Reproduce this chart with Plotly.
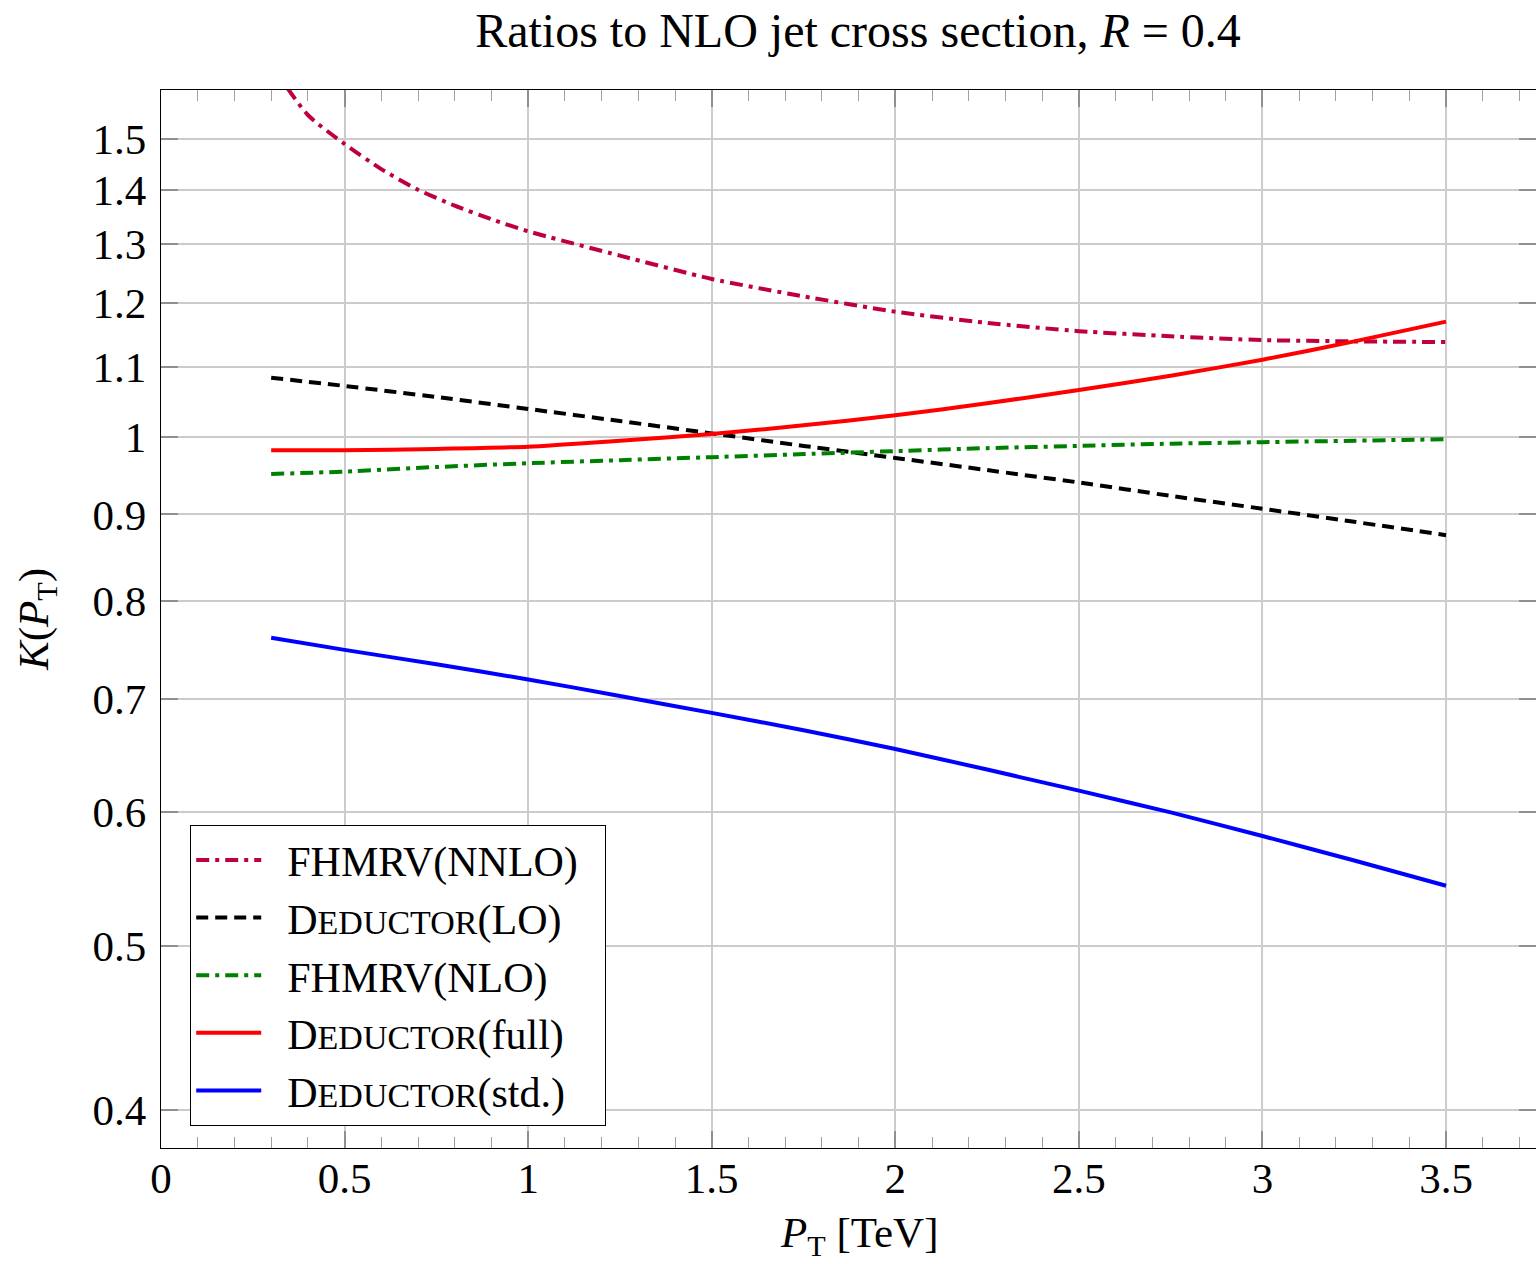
import plotly.graph_objects as go

# Transverse momentum grid in TeV
pt = [0.3, 0.5, 0.75, 1.0, 1.25, 1.5, 1.75, 2.0, 2.25, 2.5, 2.75, 3.0, 3.25, 3.5]
pt_nnlo = [0.3, 0.4, 0.5, 0.6, 0.7, 0.8, 0.9, 1.0, 1.25, 1.5, 1.75, 2.0, 2.25, 2.5, 2.75, 3.0, 3.25, 3.5]

# K-factors relative to the NLO jet cross section
k_fhmrv_nnlo = [1.66, 1.55, 1.49, 1.44, 1.40, 1.37, 1.345, 1.323, 1.28, 1.24, 1.211, 1.186,
                1.168, 1.155, 1.147, 1.141, 1.139, 1.138]
k_deductor_lo = [1.084, 1.072, 1.056, 1.039, 1.022, 1.005, 0.988, 0.972, 0.956, 0.940,
                 0.923, 0.907, 0.891, 0.875]
k_fhmrv_nlo = [0.951, 0.954, 0.960, 0.965, 0.969, 0.973, 0.977, 0.981, 0.985, 0.988,
               0.991, 0.993, 0.995, 0.997]
k_deductor_full = [0.982, 0.982, 0.984, 0.987, 0.995, 1.004, 1.016, 1.030, 1.047, 1.066,
                   1.087, 1.111, 1.139, 1.170]
k_deductor_std = [0.761, 0.7485, 0.734, 0.719, 0.703, 0.687, 0.671, 0.654, 0.636, 0.618,
                  0.600, 0.581, 0.562, 0.543]

y_ticks = [0.4, 0.5, 0.6, 0.7, 0.8, 0.9, 1.0, 1.1, 1.2, 1.3, 1.4, 1.5]
y_tick_text = ["0.4", "0.5", "0.6", "0.7", "0.8", "0.9", "1", "1.1", "1.2", "1.3", "1.4", "1.5"]
x_ticks = [0, 0.5, 1, 1.5, 2, 2.5, 3, 3.5]
x_tick_text = ["0", "0.5", "1", "1.5", "2", "2.5", "3", "3.5"]

FONT = "Liberation Serif"
SC = "<span style='font-size:34px'>EDUCTOR</span>"

series = [
    ("  FHMRV(NNLO)  ", pt_nnlo, k_fhmrv_nnlo, "#bf0040", "13px,6px,4px,6px"),
    ("  D" + SC + "(LO)", pt, k_deductor_lo, "#000000", "12px,7px"),
    ("  FHMRV(NLO)", pt, k_fhmrv_nlo, "#008000", "13px,6px,4px,6px"),
    ("  D" + SC + "(full)", pt, k_deductor_full, "#ff0000", "solid"),
    ("  D" + SC + "(std.)", pt, k_deductor_std, "#0000ff", "solid"),
]

fig = go.Figure()
for name, xs, ys, color, dash in series:
    fig.add_trace(go.Scatter(
        x=xs, y=ys, mode="lines", name=name,
        line=dict(color=color, width=4, dash=dash, shape="spline", smoothing=0.6),
    ))

axis_common = dict(
    showline=True, linecolor="black", linewidth=1.2, mirror="ticks",
    ticks="inside", ticklen=17, tickwidth=1.5, tickcolor="#909090",
    showgrid=True, gridcolor="#cccccc", gridwidth=1.5,
    zeroline=False,
    tickfont=dict(family=FONT, size=43, color="black"),
)

fig.update_xaxes(
    **axis_common,
    range=[0, 3.745],
    tickvals=x_ticks, ticktext=x_tick_text,
    ticklabelstandoff=-8,
    minor=dict(dtick=0.1, tick0=0, ticks="inside", ticklen=11, tickwidth=1.2,
               tickcolor="#a0a0a0", showgrid=False),
)
fig.update_yaxes(
    **axis_common,
    type="log",
    range=[-0.4202, 0.2051],
    tickvals=y_ticks, ticktext=y_tick_text,
    ticklabelstandoff=5,
    title=dict(text="<i>K</i>(<i>P</i><sub>T</sub>)", font=dict(family=FONT, size=43), standoff=30),
)

# x-axis title centred over the full frame
fig.add_annotation(
    text="<i>P</i><sub>T</sub> [TeV]", xref="paper", yref="paper",
    x=0.5073, y=-0.083, xanchor="center", yanchor="middle", showarrow=False,
    font=dict(family=FONT, size=43, color="black"),
)

fig.update_layout(
    width=1536, height=1264,
    margin=dict(l=161, r=0, t=90, b=116),
    paper_bgcolor="white", plot_bgcolor="white",
    font=dict(family=FONT, color="black"),
    title=dict(text="Ratios to NLO jet cross section, <i>R</i> = 0.4",
               font=dict(family=FONT, size=48), xref="container", x=0.5586, xanchor="center",
               yref="container", y=0.976, yanchor="middle"),
    legend=dict(x=0.0211, y=0.0208, xanchor="left", yanchor="bottom",
                bgcolor="white", bordercolor="black", borderwidth=1.2,
                font=dict(family=FONT, size=42), itemwidth=65, tracegroupgap=0),
    showlegend=True,
)

fig.write_html("out.html")
